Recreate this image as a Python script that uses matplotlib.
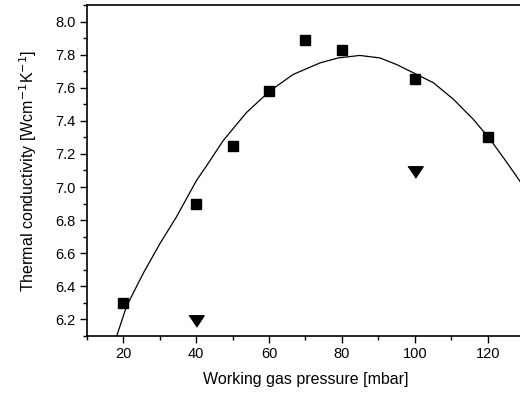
import matplotlib
matplotlib.use('Agg')
import matplotlib.pyplot as plt
import numpy as np
from matplotlib.ticker import MultipleLocator, FormatStrFormatter

plt.rcParams['font.family'] = ['Liberation Sans', 'DejaVu Sans']

# measured points (squares)
pressure = [20, 40, 50, 60, 70, 80, 100, 120]
conductivity = [6.30, 6.90, 7.25, 7.58, 7.89, 7.83, 7.65, 7.30]

# second series (triangles)
tri_pressure = [40, 100]
tri_conductivity = [6.19, 7.09]

# fitted curve
fit_x = [18.2, 20.9, 25.5, 30.1, 34.6, 40.1, 42.9, 47.4, 53.8, 60.2, 66.6,
         74.0, 79.0, 84.9, 90.4, 95.0, 99.6, 105.1, 110.6, 116.0, 120.6,
         125.2, 129.0]
fit_y = [6.10, 6.28, 6.48, 6.66, 6.82, 7.04, 7.13, 7.28, 7.45, 7.58, 7.68,
         7.75, 7.78, 7.795, 7.78, 7.74, 7.69, 7.63, 7.53, 7.41, 7.29,
         7.15, 7.03]

fig = plt.figure(figsize=(5.2, 3.96), dpi=100)
ax = fig.add_axes([0.167, 0.1515, 0.841, 0.836])

ax.plot(fit_x, fit_y, color='black', linewidth=0.9)
ax.plot(pressure, conductivity, linestyle='none', marker='s',
        markersize=7, color='black')
tri = [(-1, 0.75), (1, 0.75), (0, -0.75)]
ax.plot(tri_pressure, tri_conductivity, linestyle='none', marker=tri,
        markersize=11, color='black')

ax.set_xlim(10, 130)
ax.set_ylim(6.1, 8.1)
ax.xaxis.set_major_locator(MultipleLocator(20))
ax.xaxis.set_minor_locator(MultipleLocator(10))
ax.yaxis.set_major_locator(MultipleLocator(0.2))
ax.yaxis.set_minor_locator(MultipleLocator(0.1))
ax.set_xticks([20, 40, 60, 80, 100, 120])
ax.set_yticks([6.2, 6.4, 6.6, 6.8, 7.0, 7.2, 7.4, 7.6, 7.8, 8.0])
ax.yaxis.set_major_formatter(FormatStrFormatter('%.1f'))

ax.tick_params(which='major', direction='out', length=5, width=1,
               labelsize=10.5, pad=3)
ax.tick_params(which='minor', direction='out', length=3, width=1)
ax.tick_params(top=False, right=False, which='both')
for sp in ax.spines.values():
    sp.set_linewidth(1.2)

ax.set_xlabel('Working gas pressure [mbar]', fontsize=11.5, labelpad=8)
ax.set_ylabel('Thermal conductivity [Wcm$^{-1}$K$^{-1}$]', fontsize=11.5,
              labelpad=12)

fig.savefig('out.png', dpi=100)
